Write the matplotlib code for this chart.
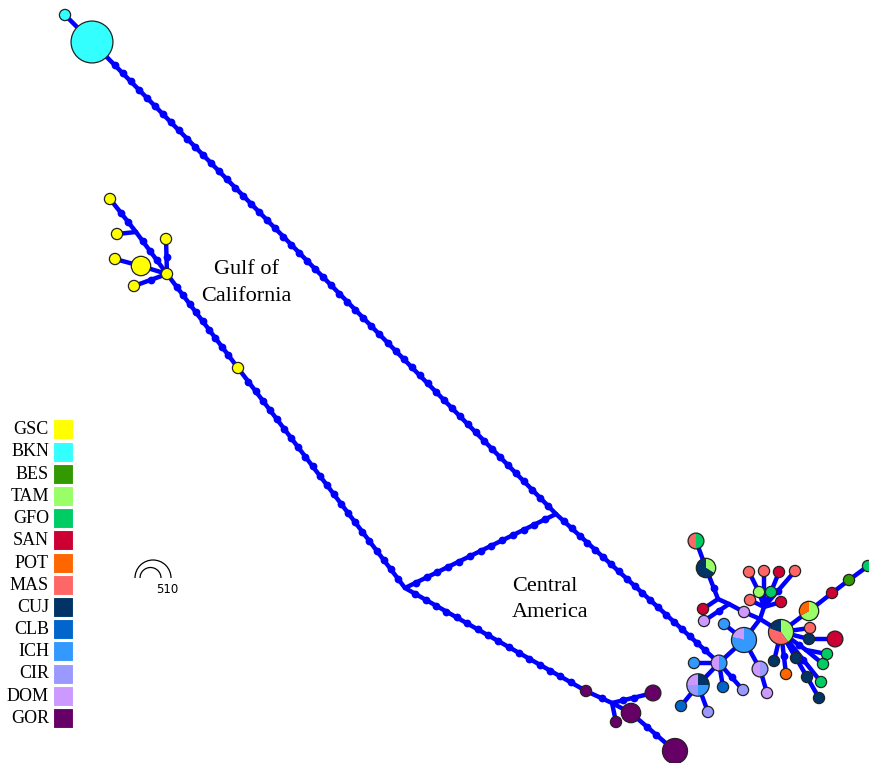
import numpy as np
import matplotlib
matplotlib.use("Agg")
import matplotlib.pyplot as plt
from matplotlib.patches import Wedge, Circle, Rectangle, Arc

# populations and their colours
pops = ["GSC", "BKN", "BES", "TAM", "GFO", "SAN", "POT", "MAS", "CUJ", "CLB", "ICH", "CIR", "DOM", "GOR"]
pop_colors = ["#FFFF00", "#33FFFF", "#339900", "#99FF66", "#00CC66", "#CC0033", "#FF6600",
              "#FF6666", "#003366", "#0066CC", "#3399FF", "#9999FF", "#CC99FF", "#660066"]
color_of = dict(zip(pops, pop_colors))

# haplotype frequencies per population (slices go clockwise from 12 o'clock)
haplotypes = {
    "bkn2": {"BKN": 1}, "bkn1": {"BKN": 14},
    "g1": {"GSC": 1}, "g2": {"GSC": 1}, "g3": {"GSC": 1}, "g4": {"GSC": 3},
    "g5": {"GSC": 1}, "g6": {"GSC": 1}, "g7": {"GSC": 1}, "gstar": {"GSC": 1},
    "o1": {"GOR": 1}, "o2": {"GOR": 2}, "o3": {"GOR": 3}, "o4": {"GOR": 1}, "o5": {"GOR": 5},
    "dom_ich": {"ICH": 1, "DOM": 1}, "ich_big": {"ICH": 4, "DOM": 1}, "ich1": {"ICH": 1},
    "multi": {"CUJ": 1, "ICH": 1, "CIR": 1, "DOM": 1}, "clb1": {"CLB": 1}, "cir1": {"CIR": 1},
    "clb2": {"CLB": 1}, "cir2": {"CIR": 1}, "dom_cir": {"CIR": 1, "DOM": 1}, "dom1": {"DOM": 1},
    "ich2": {"ICH": 1}, "dom2": {"DOM": 1}, "san1": {"SAN": 1}, "dom3": {"DOM": 1},
    "cuj_tam": {"TAM": 1, "CUJ": 2}, "mas_gfo": {"GFO": 1, "MAS": 1},
    "tam1": {"TAM": 1}, "gfo1": {"GFO": 1}, "mas1": {"MAS": 1}, "mas2": {"MAS": 1},
    "san2": {"SAN": 1}, "mas3": {"MAS": 1}, "mas4": {"MAS": 1}, "san3": {"SAN": 1},
    "big": {"TAM": 2, "MAS": 2, "CUJ": 1}, "tam_pot": {"TAM": 2, "POT": 1},
    "san4": {"SAN": 1}, "bes": {"BES": 1}, "gfo2": {"GFO": 1}, "mas5": {"MAS": 1},
    "cuj1": {"CUJ": 1}, "san5": {"SAN": 2}, "gfo3": {"GFO": 1}, "gfo4": {"GFO": 1},
    "cuj2": {"CUJ": 1}, "pot": {"POT": 1}, "cuj3": {"CUJ": 1}, "cuj4": {"CUJ": 1},
    "gfo5": {"GFO": 1}, "cuj5": {"CUJ": 1},
}

# links between haplotypes / median vectors with number of mutations
links = [
    ("bkn2", "bkn1", 0), ("bkn1", "mv_k", 55), ("mv_k", "dom_ich", 19),
    ("g1", "mv_g", 2), ("mv_g", "g2", 0), ("mv_g", "gstar", 3), ("g3", "gstar", 1),
    ("g4", "gstar", 0), ("g5", "g4", 0), ("g6", "gstar", 1), ("gstar", "g7", 9),
    ("g7", "mv_j", 22), ("mv_j", "mv_k", 13), ("mv_j", "o1", 16),
    ("o1", "mv_o", 1), ("mv_o", "o2", 2), ("mv_o", "o3", 0), ("mv_o", "o4", 0), ("o3", "o5", 2),
    ("dom_ich", "ich_big", 0), ("dom_ich", "ich1", 0), ("dom_ich", "multi", 0),
    ("multi", "clb1", 0), ("multi", "cir1", 0), ("dom_ich", "clb2", 0), ("dom_ich", "cir2", 1),
    ("ich_big", "dom_cir", 0), ("dom_cir", "dom1", 0), ("ich_big", "ich2", 0),
    ("ich_big", "mv_d", 0), ("mv_d", "dom2", 0), ("mv_d", "big", 0), ("mv_d", "mv_e", 0),
    ("dom2", "mv_b", 0), ("mv_b", "mv_a", 0), ("mv_a", "san1", 0), ("mv_b", "dom3", 1),
    ("mv_a", "cuj_tam", 1), ("cuj_tam", "mas_gfo", 0),
    ("mv_e", "tam1", 0), ("tam1", "mas1", 0), ("mv_e", "mas2", 0), ("mv_e", "gfo1", 0),
    ("gfo1", "san2", 0), ("mv_e", "mas3", 1), ("mv_e", "mas4", 0), ("mv_e", "san3", 0),
    ("big", "tam_pot", 0), ("tam_pot", "san4", 0), ("san4", "bes", 0), ("bes", "gfo2", 0),
    ("big", "mas5", 0), ("big", "cuj1", 0), ("cuj1", "san5", 0), ("big", "mv_f", 1),
    ("mv_f", "gfo3", 0), ("mv_f", "gfo4", 0), ("big", "cuj2", 0), ("big", "pot", 1),
    ("big", "cuj3", 0), ("big", "cuj4", 0), ("cuj4", "cuj5", 0), ("big", "gfo5", 1),
]

# network layout (pixel coordinates, y downwards)
layout = {
    "bkn2": (65, 15), "bkn1": (92, 42),
    "g1": (110, 199), "mv_g": (136, 232), "g2": (117, 234), "gstar": (167, 274),
    "g3": (166, 239), "g4": (141, 266), "g5": (115, 259), "g6": (134, 286), "g7": (238, 368),
    "mv_j": (405, 588), "mv_k": (556, 514),
    "o1": (586, 691), "mv_o": (612, 703), "o2": (653, 693), "o3": (631, 713),
    "o4": (616, 722), "o5": (675, 751),
    "dom_ich": (719, 663), "ich_big": (744, 640), "ich1": (694, 663), "multi": (698, 685),
    "clb1": (681, 706), "cir1": (708, 712), "clb2": (723, 687), "cir2": (743, 690),
    "dom_cir": (760, 669), "dom1": (767, 693), "ich2": (724, 624), "dom2": (744, 612),
    "mv_a": (718, 599), "mv_b": (729, 604), "san1": (703, 609), "dom3": (704, 621),
    "cuj_tam": (706, 568), "mas_gfo": (696, 541), "mv_d": (760, 619), "mv_e": (764, 607),
    "tam1": (759, 592), "gfo1": (771, 592), "mas1": (749, 572), "mas2": (764, 571),
    "san2": (779, 572), "mas3": (795, 571), "mas4": (750, 600), "san3": (781, 602),
    "big": (781, 632), "tam_pot": (809, 611), "san4": (832, 593), "bes": (849, 580),
    "gfo2": (868, 566), "mas5": (810, 628), "cuj1": (809, 639), "san5": (835, 639),
    "mv_f": (806, 650), "gfo3": (827, 654), "gfo4": (823, 664), "cuj2": (774, 661),
    "pot": (786, 674), "cuj3": (796, 658), "cuj4": (807, 677), "gfo5": (821, 682),
    "cuj5": (819, 698),
}

W, H = 869, 763
fig = plt.figure(figsize=(W / 100, H / 100), dpi=100)
ax = fig.add_axes([0, 0, 1, 1])
ax.set_xlim(0, W)
ax.set_ylim(H, 0)
ax.set_aspect("equal")
ax.axis("off")

LINK = "#0000FF"


def radius(name):
    if name not in haplotypes:
        return 0.0
    return 5.6 * np.sqrt(sum(haplotypes[name].values()))


# links and mutation marks
for a, b, n in links:
    (x0, y0), (x1, y1) = layout[a], layout[b]
    ax.plot([x0, x1], [y0, y1], color=LINK, lw=3.2, solid_capstyle="round", zorder=1)
    if n:
        d = np.hypot(x1 - x0, y1 - y0)
        ra, rb = radius(a), radius(b)
        t = (ra + (d - ra - rb) * np.arange(1, n + 1) / (n + 1)) / d
        ax.plot(x0 + t * (x1 - x0), y0 + t * (y1 - y0), "o", color=LINK,
                ms=5.6, mec="none", zorder=2)

# haplotype pies
for name, comp in haplotypes.items():
    x, y = layout[name]
    r = radius(name)
    total = sum(comp.values())
    start = -90.0  # 12 o'clock, clockwise on screen
    for p, c in comp.items():
        span = 360.0 * c / total
        if span >= 360:
            ax.add_patch(Circle((x, y), r, facecolor=color_of[p], edgecolor="none", zorder=3))
        else:
            ax.add_patch(Wedge((x, y), r, start, start + span, facecolor=color_of[p],
                               edgecolor="none", zorder=3))
        start += span
    ax.add_patch(Circle((x, y), r, facecolor="none", edgecolor="#222222", lw=0.9, zorder=4))

# region labels
serif = "Liberation Serif"
ax.text(246, 274, "Gulf of", fontsize=16, family=serif, ha="center", va="baseline")
ax.text(246, 301, "California", fontsize=16, family=serif, ha="center", va="baseline")
ax.text(512, 591, "Central", fontsize=16, family=serif, ha="left", va="baseline")
ax.text(512, 617, "America", fontsize=16, family=serif, ha="left", va="baseline")

# population key
for i, (p, c) in enumerate(zip(pops, pop_colors)):
    yc = 429.3 + 22.2 * i
    ax.add_patch(Rectangle((53, yc - 10), 20, 20, facecolor=c, edgecolor="white", lw=0.8, zorder=5))
    ax.text(49, yc + 0.5, p, fontsize=13, family=serif, ha="right", va="center")

# circle size key
ax.add_patch(Arc((153, 578), 36, 36, theta1=180, theta2=360, color="black", lw=0.9))
ax.add_patch(Arc((150.5, 578), 21, 21, theta1=180, theta2=360, color="black", lw=0.9))
ax.text(156, 593, "510", fontsize=8.5, ha="left", va="baseline")

fig.savefig("out.png", dpi=100)
